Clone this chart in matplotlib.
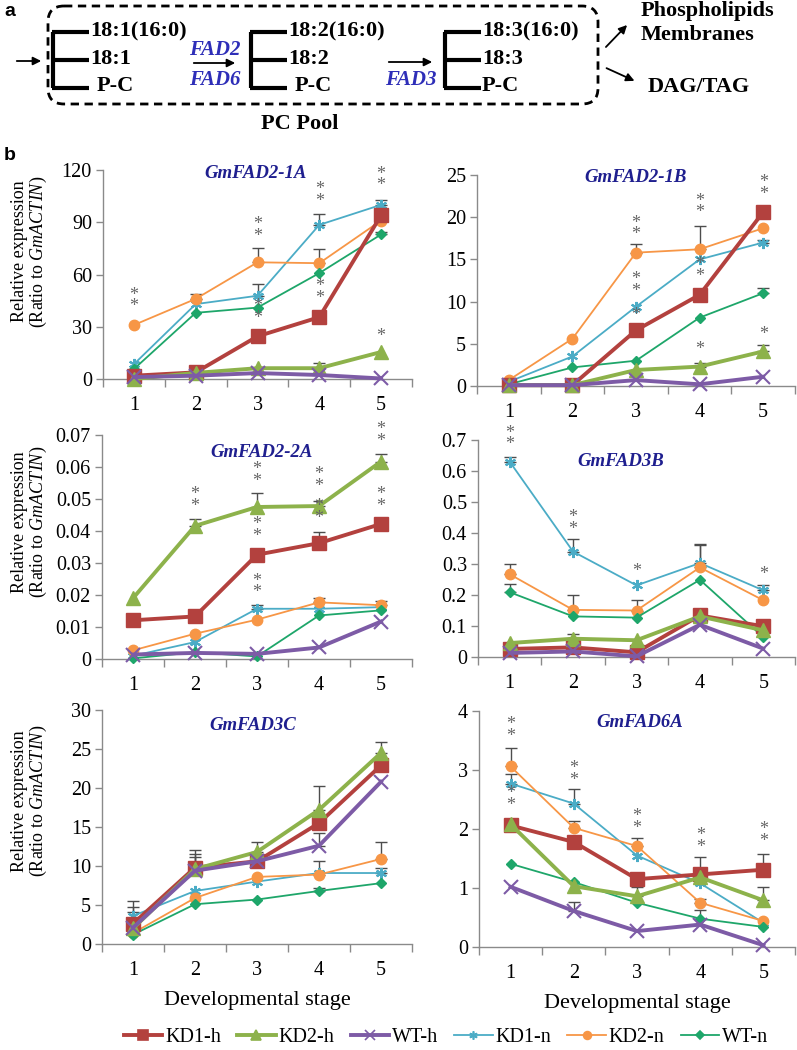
import matplotlib
matplotlib.use('Agg')
import matplotlib.pyplot as plt
import numpy as np
from matplotlib.patches import FancyBboxPatch
from matplotlib.ticker import MultipleLocator, FuncFormatter
from matplotlib.lines import Line2D

SERIF = 'Liberation Serif'
plt.rcParams['font.family'] = 'serif'
plt.rcParams['font.serif'] = [SERIF, 'DejaVu Serif']
plt.rcParams['mathtext.fontset'] = 'custom'
plt.rcParams['mathtext.rm'] = SERIF
plt.rcParams['mathtext.it'] = SERIF + ':italic'

stages = [1, 2, 3, 4, 5]
series_names = ['KD1-h', 'KD2-h', 'WT-h', 'KD1-n', 'KD2-n', 'WT-n']

# values, rows follow series_names
fad2_1a = [
    [1.9, 3.8, 24.5, 35.5, 94.0],
    [0.0, 3.5, 6.2, 6.2, 15.5],
    [1.1, 1.9, 3.4, 2.3, 0.3],
    [8.5, 43.0, 47.8, 88.5, 100.0],
    [31.0, 46.0, 67.0, 66.5, 91.0],
    [5.7, 38.0, 41.0, 60.8, 83.0],
]
fad2_1a_err = [
    [0, 0, 0, 0, 0],
    [0, 0, 0, 3.0, 0],
    [0, 0, 0, 0, 0],
    [0, 0, 6.5, 6.0, 3.0],
    [0, 3.0, 8.5, 8.0, 0],
    [0, 0, 0, 0, 1.5],
]
fad2_1a_stars = [(1, 36.5, 2), (3, 77, 2), (3, 30, 2), (4, 97, 2), (4, 41.5, 2), (5, 106, 2), (5, 19.5, 1)]

fad2_1b = [
    [0.1, 0.1, 6.6, 10.8, 20.6],
    [0.1, 0.1, 1.9, 2.3, 4.1],
    [0.1, 0.1, 0.7, 0.2, 1.1],
    [0.5, 3.5, 9.4, 15.0, 17.0],
    [0.7, 5.6, 15.8, 16.2, 18.7],
    [0.2, 2.2, 3.0, 8.1, 11.0],
]
fad2_1b_err = [
    [0, 0, 0, 0.7, 0],
    [0, 0, 0, 0.4, 0.8],
    [0, 0, 0, 0, 0],
    [0, 0, 0, 0, 0.3],
    [0, 0, 1.0, 2.8, 0],
    [0, 0, 0, 0, 0.6],
]
fad2_1b_stars = [(3, 16.9, 2), (3, 10.2, 2), (3, 7.4, 1), (4, 19.5, 2), (4, 12.0, 2), (4, 3.3, 1), (5, 21.7, 2), (5, 5.1, 1)]

fad2_2a = [
    [0.0121, 0.0133, 0.0326, 0.0362, 0.0422],
    [0.0190, 0.0416, 0.0475, 0.0478, 0.0617],
    [0.0014, 0.0019, 0.0016, 0.0036, 0.0117],
    [0.0010, 0.0053, 0.0157, 0.0157, 0.0162],
    [0.0027, 0.0079, 0.0123, 0.0177, 0.0168],
    [0.0002, 0.0021, 0.0008, 0.0136, 0.0152],
]
fad2_2a_err = [
    [0, 0, 0, 0.0036, 0],
    [0, 0.0020, 0.0045, 0.0017, 0.0023],
    [0, 0, 0, 0, 0],
    [0, 0, 0.0013, 0, 0],
    [0, 0, 0, 0.0015, 0.0012],
    [0, 0, 0, 0, 0],
]
fad2_2a_stars = [(2, 0.045, 2), (3, 0.0528, 2), (3, 0.0357, 2), (3, 0.018, 2), (4, 0.0513, 2), (4, 0.0414, 2), (5, 0.0653, 2), (5, 0.045, 2)]

fad3b = [
    [0.026, 0.031, 0.015, 0.134, 0.099],
    [0.045, 0.059, 0.054, 0.131, 0.086],
    [0.013, 0.018, 0.002, 0.104, 0.027],
    [0.630, 0.340, 0.231, 0.303, 0.215],
    [0.267, 0.152, 0.150, 0.289, 0.183],
    [0.209, 0.131, 0.127, 0.249, 0.064],
]
fad3b_err = [
    [0, 0, 0, 0, 0],
    [0, 0.016, 0, 0, 0],
    [0, 0, 0, 0, 0],
    [0.016, 0.041, 0, 0.062, 0.018],
    [0.033, 0.048, 0.035, 0.071, 0],
    [0.028, 0, 0, 0, 0],
]
fad3b_stars = [(1, 0.657, 2), (2, 0.383, 2), (3, 0.249, 1), (5, 0.238, 1)]

fad3c = [
    [2.6, 9.8, 10.6, 15.5, 22.9],
    [2.0, 9.6, 11.8, 17.2, 24.5],
    [2.1, 9.4, 10.6, 12.6, 20.8],
    [3.6, 6.8, 8.0, 9.1, 9.1],
    [1.4, 5.9, 8.6, 8.9, 10.9],
    [1.2, 5.1, 5.7, 6.8, 7.8],
]
fad3c_err = [
    [2.2, 1.7, 0, 0, 0],
    [2.1, 2.5, 1.3, 3.1, 1.4],
    [3.4, 1.7, 0, 1.6, 0],
    [0, 0, 0, 0, 0.6],
    [0, 0, 0, 1.8, 2.2],
    [0, 0, 0, 0.4, 0],
]
fad3c_stars = []

fad6a = [
    [2.06, 1.78, 1.15, 1.23, 1.31],
    [2.08, 1.03, 0.86, 1.18, 0.79],
    [1.02, 0.61, 0.27, 0.38, 0.03],
    [2.77, 2.43, 1.55, 1.08, 0.41],
    [3.06, 2.02, 1.71, 0.75, 0.44],
    [1.41, 1.10, 0.75, 0.48, 0.34],
]
fad6a_err = [
    [0, 0, 0, 0.30, 0.26],
    [0, 0, 0.16, 0, 0.22],
    [0, 0.15, 0, 0, 0],
    [0.16, 0.24, 0, 0, 0],
    [0.32, 0.11, 0.13, 0.07, 0],
    [0, 0, 0, 0.14, 0],
]
fad6a_stars = [(1, 3.42, 2), (1, 2.26, 2), (2, 2.68, 2), (3, 1.86, 2), (4, 1.55, 2), (5, 1.64, 2)]

# style per series
colors = ['#B3413E', '#8DB24B', '#7D5BA6', '#4BACC6', '#F79646', '#1EA66A']
markers = ['s', '^', 'x', (6, 2, 0), 'o', 'D']
msizes = [10, 10, 10, 8, 7.5, 5.5]
lwidths = [2.8, 2.8, 2.8, 1.3, 1.3, 1.3]
draw_order = [3, 4, 5, 0, 1, 2]

fig = plt.figure(figsize=(7.97, 10.5), dpi=100)
W, H = 797.0, 1050.0


def px_axes(l, t, r, b):
    return fig.add_axes([l / W, 1 - b / H, (r - l) / W, (b - t) / H])


# ---------- panel a : PC pool scheme ----------
axa = px_axes(0, 0, 797, 135)
axa.set_xlim(0, 797)
axa.set_ylim(135, 0)
axa.axis('off')

box = FancyBboxPatch((48, 6), 550, 98, boxstyle='round,pad=0,rounding_size=16',
                     fill=False, ls=(0, (3, 2)), lw=2, ec='black')
axa.add_patch(box)

bold = dict(fontsize=16, fontweight='bold', va='center', family=SERIF)
blue = dict(fontsize=15, fontweight='bold', style='italic', color='#2E2EB8', ha='center',
            va='center', family=SERIF)
for ex, labels in [(53, ['18:1(16:0)', '18:1', 'P-C']),
                   (251, ['18:2(16:0)', '18:2', 'P-C']),
                   (445, ['18:3(16:0)', '18:3', 'P-C'])]:
    axa.plot([ex, ex], [32, 88], color='black', lw=3, solid_capstyle='butt')
    for yy in [32, 60, 88]:
        axa.plot([ex - 1, ex + 36], [yy, yy], color='black', lw=3, solid_capstyle='butt')
    axa.text(ex + 37, 31, labels[0], ha='left', **bold)
    axa.text(ex + 37, 59, labels[1], ha='left', **bold)
    axa.text(ex + 44 if ex < 400 else ex + 37, 86, labels[2], ha='left', **bold)

arrow = dict(arrowstyle='-|>', color='black', lw=1.3, mutation_scale=12)
axa.annotate('', xy=(44, 61), xytext=(14, 61), arrowprops=arrow)
axa.annotate('', xy=(238, 63), xytext=(191, 63), arrowprops=arrow)
axa.annotate('', xy=(435, 62), xytext=(386, 62), arrowprops=arrow)
axa.annotate('', xy=(629, 23), xytext=(604, 49), arrowprops=arrow)
axa.annotate('', xy=(637, 82), xytext=(604, 67), arrowprops=arrow)
axa.text(215, 50, 'FAD2', **blue)
axa.text(215, 80, 'FAD6', **blue)
axa.text(411, 80, 'FAD3', **blue)
axa.text(641, 11, 'Phospholipids', ha='left', **bold)
axa.text(641, 35, 'Membranes', ha='left', **bold)
axa.text(648, 87, 'DAG/TAG', ha='left', **bold)
axa.text(300, 124, 'PC Pool', ha='center', **bold)
axa.text(4, 12, 'a', fontsize=14, fontweight='bold', family='Liberation Sans', va='center')
fig.text(4 / W, 1 - 155 / H, 'b', fontsize=14, fontweight='bold', family='Liberation Sans', va='center')

# ---------- panel b : six expression plots ----------
panels = [
    ('GmFAD2-1A', fad2_1a, fad2_1a_err, fad2_1a_stars, 120, 30, (103, 170, 412, 379), (0.495, 0.985), True),
    ('GmFAD2-1B', fad2_1b, fad2_1b_err, fad2_1b_stars, 25, 5, (477, 175, 795, 386), (0.50, 0.99), False),
    ('GmFAD2-2A', fad2_2a, fad2_2a_err, fad2_2a_stars, 0.07, 0.01, (102, 435, 412, 659), (0.515, 0.92), True),
    ('GmFAD3B', fad3b, fad3b_err, fad3b_stars, 0.7, 0.1, (478, 440, 795, 657), (0.45, 0.90), False),
    ('GmFAD3C', fad3c, fad3c_err, fad3c_stars, 30, 5, (102, 710, 412, 944), (0.485, 0.935), True),
    ('GmFAD6A', fad6a, fad6a_err, fad6a_stars, 4, 1, (479, 711, 795, 947), (0.51, 0.953), False),
]

axis_gray = '#8A8A8A'
for idx, (title, vals, errs, stars, ymax, ystep, box_px, tpos, left) in enumerate(panels):
    ax = px_axes(*box_px)
    for i in draw_order:
        ax.plot(stages, vals[i], color=colors[i], lw=lwidths[i], marker=markers[i],
                ms=msizes[i], mew=1.5 if i in (2, 3) else 1, mec=colors[i], mfc=colors[i],
                zorder=3 + (i < 3), clip_on=False)
        e = np.array(errs[i], dtype=float)
        keep = e > 0
        if keep.any():
            xs = np.array(stages)[keep]
            ys = np.array(vals[i])[keep]
            ax.errorbar(xs, ys, yerr=[np.zeros(keep.sum()), e[keep]], fmt='none',
                        ecolor='#4D4D4D', elinewidth=1, capsize=4, capthick=1, zorder=2)
    for st, yv, n in stars:
        ax.text(st, yv, '\n'.join(['*'] * n), ha='center', va='bottom', fontsize=13,
                color='#666666', linespacing=0.6, zorder=6, family=SERIF)

    ax.set_xlim(0.5, 5.5)
    ax.set_ylim(0, ymax)
    ax.set_xticks(stages)
    ax.set_xticklabels([str(s) for s in stages], family=SERIF)
    ax.set_xticks(np.arange(0.5, 5.6, 1.0), minor=True)
    ax.tick_params(axis='x', which='major', length=0, pad=12, labelsize=14.5)
    ax.tick_params(axis='x', which='minor', length=6, width=1, color=axis_gray, direction='out')
    ax.yaxis.set_major_locator(MultipleLocator(ystep))
    ax.yaxis.set_major_formatter(FuncFormatter(lambda v, p: '0' if abs(v) < 1e-9 else f'{round(v, 3):g}'))
    ax.tick_params(axis='y', length=5, width=1, color=axis_gray, direction='out', labelsize=14.5, pad=3)
    for lab in ax.get_yticklabels():
        lab.set_family(SERIF)
    for side in ['top', 'right']:
        ax.spines[side].set_visible(False)
    for side in ['left', 'bottom']:
        ax.spines[side].set_color(axis_gray)
        ax.spines[side].set_linewidth(1)
    ax.text(tpos[0], tpos[1], title, transform=ax.transAxes, ha='center', va='center',
            fontsize=13.5, fontweight='bold', style='italic', color='#1F1F8F', family=SERIF)
    if left:
        ax.set_ylabel('Relative expression\n(Ratio to $\\mathit{GmACTIN}$)', fontsize=13,
                      va='center', linespacing=1.0, family=SERIF)
        ax.yaxis.set_label_coords((30 - box_px[0]) / (box_px[2] - box_px[0]), 0.61)
    if idx >= 4:
        ax.set_xlabel('Developmental stage', fontsize=16, labelpad=8, family=SERIF)

handles = [Line2D([], [], color=colors[i], lw=lwidths[i], marker=markers[i],
                  ms=msizes[i] * 0.75, mew=1.2, mec=colors[i], mfc=colors[i]) for i in range(6)]
fig.legend(handles, series_names, loc='center', bbox_to_anchor=(446 / W, 1 - 1037 / H),
           ncol=6, frameon=False, prop={'family': SERIF, 'size': 14.5}, handlelength=1.9,
           handletextpad=0.15, columnspacing=0.8)

fig.savefig('out.png', dpi=100)
